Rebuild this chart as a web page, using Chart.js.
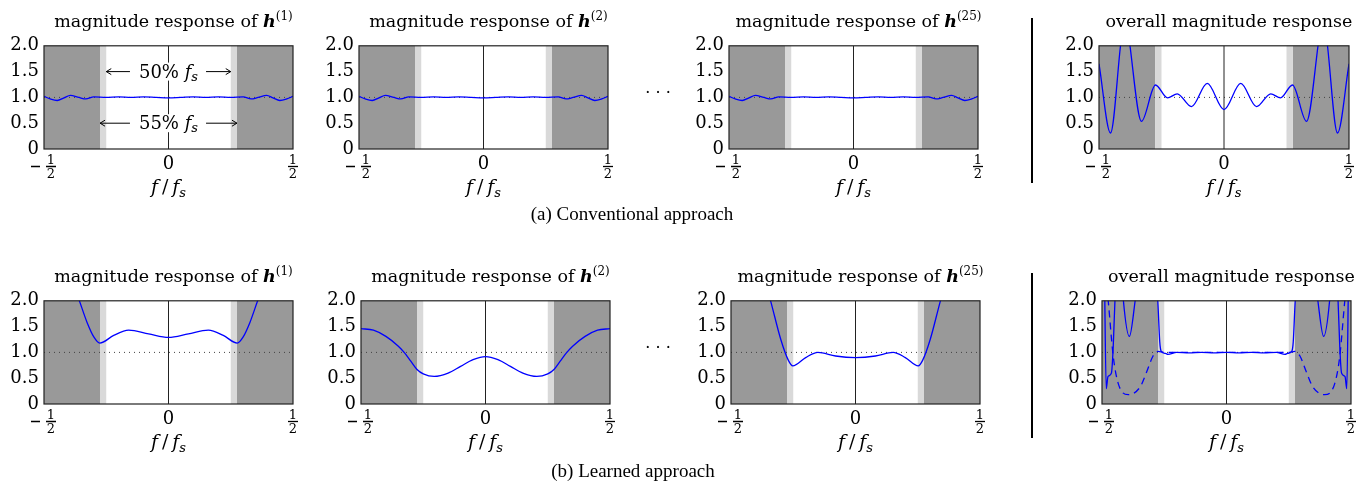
<!DOCTYPE html>
<html>
<head>
<meta charset="utf-8">
<script src="https://cdn.jsdelivr.net/npm/chart.js@4.4.0/dist/chart.umd.min.js"></script>
<style>
  body { margin: 0; background: #fff; }
  #fig { position: relative; width: 1369px; height: 492px; overflow: hidden; font-family: "DejaVu Serif", serif; color: #000; }
  #fig canvas { position: absolute; }
  .titulo { position: absolute; width: 360px; text-align: center; font-size: 17.5px; line-height: 17px; white-space: nowrap; }
  .titulo b { font-style: italic; }
  .titulo sup { font-size: 12px; vertical-align: 0; position: relative; top: -7.5px; }
  .xlab { position: absolute; width: 80px; text-align: center; font-size: 19px; line-height: 17px; white-space: nowrap; }
  .xlab sub { font-size: 13px; vertical-align: 0; position: relative; top: 4px; }
  .caption { position: absolute; width: 400px; text-align: center; font-family: "Liberation Serif", serif; font-size: 19px; line-height: 19px; }
  .dots { position: absolute; width: 40px; text-align: center; font-size: 16px; line-height: 17px; }
  .sep { position: absolute; width: 2px; background: #000; }
</style>
</head>
<body>
<div id="fig"></div>
<script>
// bordes de banda en f/fs
const passEdge = 0.25;
const stopEdge = 0.275;

const xTicks = [-0.5, 0, 0.5];
const yTicks = [0, 0.5, 1, 1.5, 2];
const yTickLabels = ['0', '0.5', '1.0', '1.5', '2.0'];
const unityFreq = [-0.5, 0.5];
const unityMag = [1, 1];

// (a) conventional: single filter response (h1, h2, h25 look the same)
const convFilterFreq = [-0.5, -0.475, -0.447, -0.42, -0.394, -0.36, -0.332, -0.3, -0.25, -0.2, -0.15, -0.1, -0.05, 0, 0.05, 0.1, 0.15, 0.2, 0.25, 0.3, 0.332, 0.36, 0.394, 0.42, 0.447, 0.475, 0.5];
const convFilterMag = [1.02, 0.97, 0.94, 0.99, 1.04, 1.0, 0.97, 1.01, 1.0, 1.01, 1.0, 1.01, 1.0, 0.99, 1.0, 1.01, 1.0, 1.01, 1.0, 1.01, 0.97, 1.0, 1.04, 0.99, 0.94, 0.97, 1.02];

// (a) conventional: overall
const convOverallFreq = [-0.5, -0.454, -0.414, -0.395, -0.376, -0.33, -0.274, -0.226, -0.187, -0.13, -0.067, 0, 0.067, 0.13, 0.187, 0.226, 0.274, 0.33, 0.376, 0.395, 0.414, 0.454, 0.5];
const convOverallMag = [1.65, 0.31, 2.0, 2.8, 2.0, 0.535, 1.24, 0.99, 1.07, 0.82, 1.27, 0.765, 1.27, 0.82, 1.07, 0.99, 1.24, 0.535, 2.0, 2.8, 2.0, 0.31, 1.65];

// (b) learned
const learnH1Freq = [-0.5, -0.42, -0.358, -0.327, -0.3, -0.276, -0.22, -0.16, -0.08, 0, 0.08, 0.16, 0.22, 0.276, 0.3, 0.327, 0.358, 0.42, 0.5];
const learnH1Mag = [4.2, 2.8, 2.0, 1.58, 1.3, 1.18, 1.33, 1.43, 1.36, 1.29, 1.36, 1.43, 1.33, 1.18, 1.3, 1.58, 2.0, 2.8, 4.2];

const learnH2Freq = [-0.5, -0.45, -0.4, -0.35, -0.325, -0.3, -0.275, -0.25, -0.206, -0.15, -0.1, -0.05, 0, 0.05, 0.1, 0.15, 0.206, 0.25, 0.275, 0.3, 0.325, 0.35, 0.4, 0.45, 0.5];
const learnH2Mag = [1.46, 1.43, 1.31, 1.12, 0.99, 0.83, 0.67, 0.585, 0.535, 0.6, 0.73, 0.86, 0.92, 0.86, 0.73, 0.6, 0.535, 0.585, 0.67, 0.83, 0.99, 1.12, 1.31, 1.43, 1.46];

const learnH25Freq = [-0.5, -0.4, -0.341, -0.3, -0.27, -0.252, -0.2, -0.151, -0.08, 0, 0.08, 0.151, 0.2, 0.252, 0.27, 0.3, 0.341, 0.4, 0.5];
const learnH25Mag = [5.0, 3.0, 2.0, 1.25, 0.85, 0.74, 0.9, 1.0, 0.93, 0.9, 0.93, 1.0, 0.9, 0.74, 0.85, 1.25, 2.0, 3.0, 5.0];

const learnOverallFreq = [-0.5, -0.49, -0.483, -0.476, -0.462, -0.455, -0.448, -0.43, -0.414, -0.39, -0.367, -0.32, -0.276, -0.268, -0.262, -0.245, -0.235, -0.2, -0.15, -0.1, -0.05, 0, 0.05, 0.1, 0.15, 0.2, 0.235, 0.245, 0.262, 0.268, 0.276, 0.32, 0.367, 0.39, 0.414, 0.43, 0.448, 0.455, 0.462, 0.476, 0.483, 0.49, 0.5];
const learnOverallMag = [6.0, 2.5, 0.3, 0.53, 0.6, 1.1, 2.0, 3.2, 2.0, 1.31, 2.0, 4.0, 2.0, 1.2, 1.02, 0.98, 0.96, 1.0, 0.99, 1.0, 0.99, 1.0, 0.99, 1.0, 0.99, 1.0, 0.96, 0.98, 1.02, 1.2, 2.0, 4.0, 2.0, 1.31, 2.0, 3.2, 2.0, 1.1, 0.6, 0.53, 0.3, 2.5, 6.0];

const learnBranchFreq = [-0.5, -0.475, -0.455, -0.435, -0.394, -0.347, -0.32, -0.295, -0.275, -0.25, 0, 0.25, 0.275, 0.295, 0.32, 0.347, 0.394, 0.435, 0.455, 0.475, 0.5];
const learnBranchMag = [3.2, 2.0, 0.93, 0.4, 0.18, 0.33, 0.63, 0.93, 1.02, 1.0, 1.0, 1.0, 1.02, 0.93, 0.63, 0.33, 0.18, 0.4, 0.93, 2.0, 3.2];

const panels = [
  { left: 44, top: 36, w: 249, h: 113, title: 'h1', curves: [{ f: convFilterFreq, m: convFilterMag }], notes: true },
  { left: 359, top: 36, w: 249, h: 113, title: 'h2', curves: [{ f: convFilterFreq, m: convFilterMag }] },
  { left: 729, top: 36, w: 249, h: 113, title: 'h25', curves: [{ f: convFilterFreq, m: convFilterMag }] },
  { left: 1099, top: 36, w: 250, h: 113, title: 'all', curves: [{ f: convOverallFreq, m: convOverallMag }] },
  { left: 44, top: 291, w: 249, h: 113, title: 'h1', curves: [{ f: learnH1Freq, m: learnH1Mag }] },
  { left: 361, top: 291, w: 249, h: 113, title: 'h2', curves: [{ f: learnH2Freq, m: learnH2Mag }] },
  { left: 731, top: 291, w: 249, h: 113, title: 'h25', curves: [{ f: learnH25Freq, m: learnH25Mag }] },
  { left: 1102, top: 291, w: 249, h: 113, title: 'all', curves: [{ f: learnOverallFreq, m: learnOverallMag }, { f: learnBranchFreq, m: learnBranchMag, dash: [7, 5] }] }
];

const titleHtml = {
  h1: 'magnitude response of <b>h</b><sup>(1)</sup>',
  h2: 'magnitude response of <b>h</b><sup>(2)</sup>',
  h25: 'magnitude response of <b>h</b><sup>(25)</sup>',
  all: 'overall magnitude response'
};

const toPoints = (xs, ys) => xs.map((x, i) => ({ x: x, y: ys[i] }));

function drawHalf(ctx, cx, top, negative) {
  const fx = negative ? cx + 7 : cx;
  ctx.font = '13px "DejaVu Serif"';
  ctx.textAlign = 'center';
  ctx.textBaseline = 'alphabetic';
  ctx.fillText('1', fx, top + 15);
  ctx.fillText('2', fx, top + 29);
  ctx.lineWidth = 1.3;
  ctx.beginPath();
  ctx.moveTo(fx - 5, top + 17.5);
  ctx.lineTo(fx + 5, top + 17.5);
  if (negative) {
    ctx.moveTo(cx - 13, top + 17.5);
    ctx.lineTo(cx - 4, top + 17.5);
  }
  ctx.stroke();
}

function arrow(ctx, x0, x1, y) {
  const dir = Math.sign(x1 - x0);
  ctx.beginPath();
  ctx.moveTo(x0, y);
  ctx.lineTo(x1, y);
  ctx.moveTo(x1 - dir * 5, y - 3);
  ctx.lineTo(x1, y);
  ctx.lineTo(x1 - dir * 5, y + 3);
  ctx.stroke();
}

// anotacion de ancho de banda (solo primer panel)
function drawNote(ctx, x, y, from, to, pct) {
  const cx = x.getPixelForValue(0);
  const py = y.getPixelForValue(from.y);
  ctx.font = '18px "DejaVu Serif"';
  const w1 = ctx.measureText(pct + ' ').width;
  ctx.font = 'italic 18px "DejaVu Serif"';
  const w2 = ctx.measureText('f').width;
  ctx.font = 'italic 13px "DejaVu Serif"';
  const w3 = ctx.measureText('s').width;
  const total = w1 + w2 + w3;
  const left = cx - total / 2;
  ctx.fillStyle = '#fff';
  ctx.fillRect(left - 3, py - 9, total + 6, 18);
  ctx.fillStyle = '#000';
  ctx.textAlign = 'left';
  ctx.textBaseline = 'alphabetic';
  ctx.font = '18px "DejaVu Serif"';
  ctx.fillText(pct + ' ', left, py + 6);
  ctx.font = 'italic 18px "DejaVu Serif"';
  ctx.fillText('f', left + w1, py + 6);
  ctx.font = 'italic 13px "DejaVu Serif"';
  ctx.fillText('s', left + w1 + w2, py + 9);
  ctx.strokeStyle = '#000';
  ctx.lineWidth = 1;
  arrow(ctx, left - 9, x.getPixelForValue(from.x), py);
  arrow(ctx, left + total + 8, x.getPixelForValue(to.x), py);
}

const framePlugin = {
  id: 'frame',
  beforeDatasetsDraw(chart) {
    const { ctx, chartArea: a, scales: { x } } = chart;
    const h = a.bottom - a.top;
    const px = v => x.getPixelForValue(v);
    ctx.save();
    ctx.fillStyle = '#999999';
    ctx.fillRect(a.left, a.top, px(-stopEdge) - a.left, h);
    ctx.fillRect(px(stopEdge), a.top, a.right - px(stopEdge), h);
    ctx.fillStyle = '#d9d9d9';
    ctx.fillRect(px(-stopEdge), a.top, px(-passEdge) - px(-stopEdge), h);
    ctx.fillRect(px(passEdge), a.top, px(stopEdge) - px(passEdge), h);
    ctx.restore();
  },
  afterDraw(chart) {
    const { ctx, chartArea: a, scales: { x, y } } = chart;
    ctx.save();
    if (chart.options.plugins.frame.notes) {
      drawNote(ctx, x, y, { x: -passEdge, y: 1.5 }, { x: passEdge }, '50%');
      drawNote(ctx, x, y, { x: -stopEdge, y: 0.5 }, { x: stopEdge }, '55%');
    }
    ctx.strokeStyle = '#222';
    ctx.lineWidth = 1.2;
    ctx.strokeRect(a.left, a.top, a.right - a.left, a.bottom - a.top);
    ctx.fillStyle = '#000';
    ctx.strokeStyle = '#000';
    x.ticks.forEach(t => {
      const px = x.getPixelForValue(t.value);
      if (t.value === 0) {
        ctx.font = '18px "DejaVu Serif"';
        ctx.textAlign = 'center';
        ctx.textBaseline = 'alphabetic';
        ctx.fillText('0', px, a.bottom + 20);
      } else {
        drawHalf(ctx, px, a.bottom, t.value < 0);
      }
    });
    ctx.restore();
  }
};

const fig = document.getElementById('fig');

panels.forEach(p => {
  const cv = document.createElement('canvas');
  cv.width = p.w + 60;
  cv.height = p.h + 66;
  cv.style.left = (p.left - 50) + 'px';
  cv.style.top = (p.top - 6) + 'px';
  fig.appendChild(cv);

  const datasets = p.curves.map(c => ({
    data: toPoints(c.f, c.m),
    borderColor: '#0000ff',
    borderWidth: 1.3,
    borderDash: c.dash || [],
    cubicInterpolationMode: 'monotone',
    pointRadius: 0
  }));
  datasets.push({
    data: toPoints([0, 0], [yTicks[0], yTicks[yTicks.length - 1]]),
    borderColor: '#222',
    borderWidth: 1,
    pointRadius: 0
  });
  datasets.push({
    data: toPoints(unityFreq, unityMag),
    borderColor: '#444',
    borderWidth: 1,
    borderDash: [1, 4],
    pointRadius: 0
  });

  new Chart(cv.getContext('2d'), {
    type: 'line',
    data: { datasets: datasets },
    options: {
      responsive: false,
      animation: false,
      devicePixelRatio: 1,
      layout: { padding: { top: 6, right: 10, left: 0, bottom: 0 } },
      plugins: {
        legend: { display: false },
        tooltip: { enabled: false },
        frame: { notes: !!p.notes }
      },
      scales: {
        x: {
          type: 'linear',
          min: -0.5,
          max: 0.5,
          afterBuildTicks: s => { s.ticks = xTicks.map(v => ({ value: v })); },
          ticks: { display: false },
          grid: { display: false, drawTicks: false },
          border: { display: false },
          afterFit: s => { s.height = 60; }
        },
        y: {
          type: 'linear',
          min: 0,
          max: 2,
          afterBuildTicks: s => { s.ticks = yTicks.map(v => ({ value: v })); },
          ticks: {
            callback: v => yTickLabels[yTicks.indexOf(v)],
            font: { family: 'DejaVu Serif', size: 18 },
            color: '#000',
            padding: 5
          },
          grid: { display: false, drawTicks: false },
          border: { display: false },
          afterFit: s => { s.width = 50; }
        }
      }
    },
    plugins: [framePlugin]
  });

  // titulo y etiqueta del eje x
  const cx = p.left + p.w / 2;
  const t = document.createElement('div');
  t.className = 'titulo';
  t.style.left = (cx - 180 + 5) + 'px';
  t.style.top = (p.top - 23) + 'px';
  t.innerHTML = titleHtml[p.title];
  fig.appendChild(t);

  const xl = document.createElement('div');
  xl.className = 'xlab';
  xl.style.left = (cx - 40) + 'px';
  xl.style.top = (p.top + p.h + 29) + 'px';
  xl.innerHTML = '<i>f</i>&thinsp;/&thinsp;<i>f<sub>s</sub></i>';
  fig.appendChild(xl);
});

[[632, 204, '(a) Conventional approach'], [633, 461, '(b) Learned approach']].forEach(c => {
  const d = document.createElement('div');
  d.className = 'caption';
  d.style.left = (c[0] - 200) + 'px';
  d.style.top = c[1] + 'px';
  d.textContent = c[2];
  fig.appendChild(d);
});

[84, 339].forEach(top => {
  const d = document.createElement('div');
  d.className = 'dots';
  d.style.left = '638px';
  d.style.top = top + 'px';
  d.textContent = '· · ·';
  fig.appendChild(d);
});

[[18, 165], [273, 165]].forEach(s => {
  const d = document.createElement('div');
  d.className = 'sep';
  d.style.left = '1031px';
  d.style.top = s[0] + 'px';
  d.style.height = s[1] + 'px';
  fig.appendChild(d);
});
</script>
</body>
</html>
